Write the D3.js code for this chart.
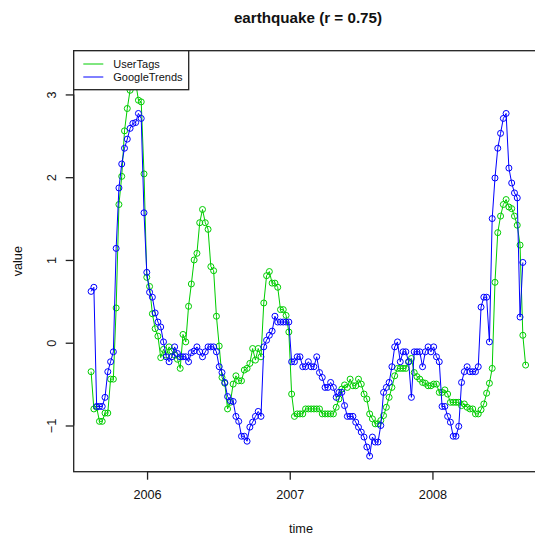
<!DOCTYPE html>
<html><head><meta charset="utf-8">
<script src="https://cdn.jsdelivr.net/npm/d3@7"></script>
<style>body{margin:0;background:#fff}svg{display:block}text{font-family:"Liberation Sans",Arial,sans-serif}</style>
</head><body>
<script>
const title = "earthquake (r = 0.75)";
const seriesNames = ["UserTags", "GoogleTrends"];
const seriesColors = ["#00CD00", "#0000FF"];
const xTicks = [2006, 2007, 2008];
const yTicks = [-1, 0, 1, 2, 3];
const tStart = 2005.6077, tEnd = 2008.653;
const userTags = [-0.35,-0.80,-0.78,-0.95,-0.95,-0.85,-0.85,-0.44,-0.44,0.42,
1.67,2.01,2.56,2.83,3.05,3.34,3.15,2.93,2.91,2.04,
0.79,0.68,0.35,0.17,0.08,-0.18,-0.08,-0.15,-0.05,-0.10,
-0.15,-0.20,-0.31,0.10,0.01,0.44,0.71,1.00,1.08,1.45,
1.61,1.45,1.37,0.92,0.87,0.32,-0.04,-0.42,-0.49,-0.80,
-0.72,-0.50,-0.40,-0.46,-0.46,-0.33,-0.31,-0.25,-0.07,-0.21,
-0.07,-0.17,0.48,0.81,0.86,0.72,0.72,0.67,0.40,0.40,
0.33,0.13,-0.62,-0.89,-0.86,-0.86,-0.86,-0.80,-0.80,-0.80,
-0.80,-0.80,-0.80,-0.86,-0.86,-0.86,-0.86,-0.86,-0.78,-0.68,
-0.56,-0.51,-0.54,-0.44,-0.52,-0.52,-0.44,-0.50,-0.62,-0.68,
-0.86,-0.92,-0.98,-0.98,-0.94,-0.88,-0.78,-0.66,-0.54,-0.40,
-0.31,-0.31,-0.31,-0.31,-0.23,-0.19,-0.36,-0.41,-0.44,-0.48,
-0.49,-0.52,-0.52,-0.50,-0.50,-0.60,-0.60,-0.57,-0.62,-0.72,
-0.72,-0.72,-0.72,-0.76,-0.74,-0.78,-0.80,-0.80,-0.86,-0.86,
-0.81,-0.74,-0.61,-0.49,-0.31,0.73,1.33,1.53,1.67,1.73,
1.64,1.62,1.53,1.42,1.18,0.09,-0.27];
const googleTrends = [0.62,0.67,-0.77,-0.77,-0.77,-0.66,-0.35,-0.23,-0.11,1.14,
1.87,2.16,2.35,2.46,2.59,2.65,2.66,2.77,2.71,1.57,
0.85,0.61,0.55,0.36,0.25,0.19,0.01,-0.17,-0.23,-0.17,
-0.05,-0.13,-0.17,-0.17,-0.17,-0.23,-0.12,-0.10,-0.05,-0.11,
-0.17,-0.11,-0.05,-0.05,-0.05,-0.11,-0.29,-0.36,-0.48,-0.65,
-0.70,-0.71,-0.89,-0.95,-1.13,-1.13,-1.19,-1.02,-0.96,-0.89,
-0.83,-0.89,-0.05,0.03,0.09,0.14,0.32,0.25,0.25,0.25,
0.25,0.25,-0.23,-0.23,-0.17,-0.17,-0.29,-0.29,-0.23,-0.29,
-0.29,-0.17,-0.36,-0.42,-0.54,-0.54,-0.48,-0.54,-0.66,-0.60,
-0.60,-0.76,-0.89,-0.89,-0.89,-0.96,-1.02,-1.08,-1.14,-1.26,
-1.37,-1.14,-1.20,-1.20,-1.00,-0.60,-0.54,-0.48,-0.29,-0.05,
0.01,-0.23,-0.11,-0.11,-0.23,-0.66,-0.11,-0.11,-0.11,-0.29,
-0.11,-0.05,-0.11,-0.05,-0.17,-0.23,-0.77,-0.77,-0.89,-0.96,
-1.13,-1.13,-1.01,-0.48,-0.35,-0.29,-0.35,-0.35,-0.35,-0.29,
0.43,0.55,0.55,0.01,1.50,1.99,2.35,2.53,2.71,2.77,
2.11,1.93,1.81,1.75,0.31,0.97];

const W = 535, H = 538;
const plot = {left: 73.7, top: 50.7, right: 543, bottom: 471.7};
const n = Math.max(userTags.length, googleTrends.length);
const times = d3.range(n).map(i => tStart + i * (tEnd - tStart) / (n - 1));
const series = [userTags, googleTrends];

function padded(ext){ const r = ext[1]-ext[0]; return [ext[0]-0.04*r, ext[1]+0.04*r]; }
const x = d3.scaleLinear().domain(padded([tStart, tEnd])).range([plot.left, plot.right]);
const allV = userTags.concat(googleTrends);
const y = d3.scaleLinear().domain(padded(d3.extent(allV))).range([plot.bottom, plot.top]);

const svg = d3.select("body").append("svg").attr("width", W).attr("height", H);

const g = svg.append("g");
series.forEach((vals, k) => {
  const pts = vals.map((v, i) => [times[i], v]);
  g.append("path").datum(pts)
    .attr("fill", "none").attr("stroke", seriesColors[k]).attr("stroke-width", 1)
    .attr("d", d3.line().x(d => x(d[0])).y(d => y(d[1])));
  g.selectAll(null).data(pts).enter().append("circle")
    .attr("cx", d => x(d[0])).attr("cy", d => y(d[1])).attr("r", 3)
    .attr("fill", "none").attr("stroke", seriesColors[k]).attr("stroke-width", 1);
});

// box
svg.append("rect").attr("x", plot.left).attr("y", plot.top)
  .attr("width", plot.right - plot.left).attr("height", plot.bottom - plot.top)
  .attr("fill", "none").attr("stroke", "#222").attr("stroke-width", 1.3);

// axes
const xAxis = d3.axisBottom(x).tickValues(xTicks).tickFormat(d3.format("d")).tickSize(8).tickPadding(10);
const xg = svg.append("g").attr("transform", `translate(0,${plot.bottom})`).call(xAxis);
xg.select(".domain").attr("d", `M${x(xTicks[0])},0H${x(xTicks[xTicks.length-1])}`).attr("stroke", "#222").attr("stroke-width", 1.3);
xg.selectAll(".tick line").attr("stroke", "#222").attr("stroke-width", 1.3);
xg.selectAll(".tick text").attr("font-size", 12.7).attr("fill", "#111").attr("font-family", "Liberation Sans, Arial, sans-serif");

const yAxis = d3.axisLeft(y).tickValues(yTicks).tickFormat(d => d < 0 ? "\u2212" + Math.abs(d) : d).tickSize(8).tickPadding(6);
const yg = svg.append("g").attr("transform", `translate(${plot.left},0)`).call(yAxis);
yg.select(".domain").attr("d", `M0,${y(yTicks[0])}V${y(yTicks[yTicks.length-1])}`).attr("stroke", "#222").attr("stroke-width", 1.3);
yg.selectAll(".tick line").attr("stroke", "#222").attr("stroke-width", 1.3);
yg.selectAll(".tick text").attr("font-size", 12.7).attr("fill", "#111").attr("font-family", "Liberation Sans, Arial, sans-serif")
  .attr("text-anchor", "middle").attr("x", null).attr("dy", null)
  .attr("transform", "translate(-22,0) rotate(-90)").attr("dy", "0.35em");

// labels
svg.append("text").attr("x", 308).attr("y", 23).attr("text-anchor", "middle")
  .attr("font-size", 15.2).attr("font-weight", "bold").attr("fill", "#111").text(title);
svg.append("text").attr("x", 301).attr("y", 533).attr("text-anchor", "middle")
  .attr("font-size", 12.7).attr("fill", "#111").text("time");
svg.append("text").attr("transform", `translate(22,${(plot.top+plot.bottom)/2}) rotate(-90)`).attr("text-anchor", "middle")
  .attr("font-size", 12.7).attr("fill", "#111").text("value");

// legend
const lg = svg.append("g");
lg.append("rect").attr("x", plot.left).attr("y", plot.top).attr("width", 115).attr("height", 39)
  .attr("fill", "#fff").attr("stroke", "#222").attr("stroke-width", 1.3);
seriesNames.forEach((nm, k) => {
  const yy = plot.top + 13.3 + k * 13;
  lg.append("line").attr("x1", plot.left + 9.6).attr("x2", plot.left + 29.6).attr("y1", yy).attr("y2", yy)
    .attr("stroke", seriesColors[k]).attr("stroke-width", 1);
  lg.append("text").attr("x", plot.left + 39.6).attr("y", yy).attr("dy", "0.35em")
    .attr("font-size", 11).attr("fill", "#111").text(nm);
});
</script>
</body></html>
